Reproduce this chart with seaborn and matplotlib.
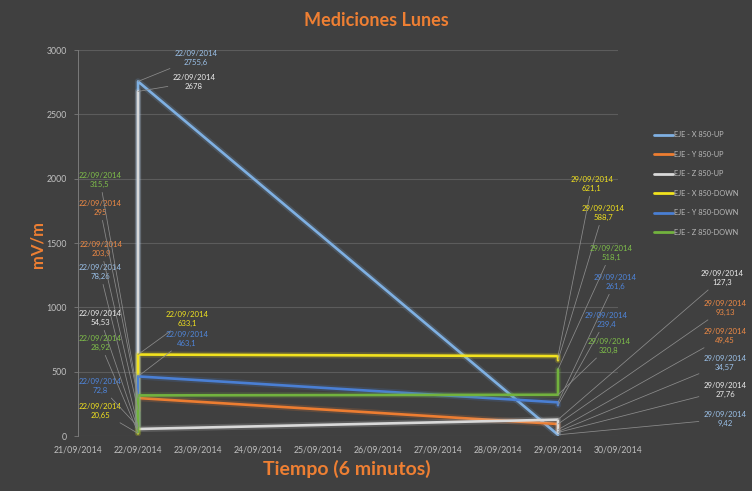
import matplotlib
matplotlib.use("Agg")
import matplotlib.pyplot as plt
import matplotlib.dates as mdates
import matplotlib.patheffects as pe
import pandas as pd
import seaborn as sns

# --- data -----------------------------------------------------------------
series_names = [
    "EJE - X 850-UP",
    "EJE - Y 850-UP",
    "EJE - Z 850-UP",
    "EJE - X 850-DOWN",
    "EJE - Y 850-DOWN",
    "EJE - Z 850-DOWN",
]
reading_dates = ["22/09/2014", "22/09/2014", "29/09/2014", "29/09/2014"]

x_up = [78.26, 2755.6, 9.42, 34.57]
y_up = [203.9, 295, 93.13, 49.45]
z_up = [2678, 54.53, 127.3, 27.76]
x_down = [20.65, 633.1, 621.1, 588.7]
y_down = [72.8, 463.1, 261.6, 239.4]
z_down = [28.92, 315.5, 320.8, 518.1]

series_values = [x_up, y_up, z_up, x_down, y_down, z_down]

# --- styling --------------------------------------------------------------
colors = ["#7fb0e2", "#ed7d31", "#d9d9d9", "#f2e21e", "#4a7fd4", "#72b23e"]
label_colors = ["#9cc2ea", "#ef8a45", "#ececec", "#f2e21e", "#4f86dc", "#7fbf4a"]
bg = "#404040"
accent = "#ee7f33"
tick_col = "#c0c0c0"

# placement of each data label (figure pixels, measured from the top-left)
label_pos = [
    [(100, 272), (196, 58), (725, 419), (725, 363)],
    [(101, 249), (100, 208), (725, 308), (725, 336)],
    [(194, 82), (100, 318), (722, 278), (725, 390)],
    [(100, 411), (187, 319), (592, 184), (603, 213)],
    [(100, 386), (187, 339), (615, 282), (606, 320)],
    [(100, 343), (100, 180), (609, 346), (611, 253)],
]

rows = []
for name, vals in zip(series_names, series_values):
    for d, v in zip(reading_dates, vals):
        rows.append({"Fecha": pd.to_datetime(d, dayfirst=True), "mV/m": v, "Serie": name})
df = pd.DataFrame(rows)

sns.set_style("dark", rc={"axes.facecolor": bg, "figure.facecolor": bg})
plt.rcParams["font.family"] = ["Lato", "DejaVu Sans"]

W, H = 752, 491
fig = plt.figure(figsize=(W / 100, H / 100), dpi=100)
ax = fig.add_axes([78 / W, 1 - 436 / H, (618 - 78) / W, (436 - 50) / H])
ax.set_facecolor(bg)

sns.lineplot(
    data=df, x="Fecha", y="mV/m", hue="Serie", hue_order=series_names,
    palette=colors, estimator=None, sort=False, linewidth=1.9, ax=ax,
)

for line, c in zip(ax.lines, colors):
    line.set_path_effects([
        pe.Stroke(linewidth=4.5, foreground=c, alpha=0.18),
        pe.Normal(),
    ])

# data labels with leader lines
for name, vals, pos, lc in zip(series_names, series_values, label_pos, label_colors):
    for d, v, (px, py) in zip(reading_dates, vals, pos):
        txt = f"{d}\n{v:g}".replace(".", ",")
        ax.annotate(
            txt, xy=(pd.to_datetime(d, dayfirst=True), v),
            xytext=(px, H - py), textcoords="figure pixels",
            ha="center", va="center", fontsize=5.6, color=lc,
            linespacing=1.25, annotation_clip=False,
            arrowprops=dict(arrowstyle="-", color="#8c8c8c", lw=0.55,
                            shrinkA=1, shrinkB=0),
        )

# axes
ax.set_xlim(pd.Timestamp("2014-09-21"), pd.Timestamp("2014-09-30"))
ax.xaxis.set_major_locator(mdates.DayLocator())
ax.xaxis.set_major_formatter(mdates.DateFormatter("%d/%m/%Y"))
ax.set_ylim(0, 3000)
ax.set_yticks(range(0, 3001, 500))
ax.yaxis.grid(True, color="#5c5c5c", linewidth=0.8)
ax.xaxis.grid(False)
ax.set_xlabel("")
ax.set_ylabel("")
for s in ["top", "right", "bottom"]:
    ax.spines[s].set_visible(False)
ax.spines["left"].set_color("#7a7a7a")
ax.spines["left"].set_linewidth(0.7)
ax.tick_params(axis="x", length=0, pad=7, labelsize=6.3, labelcolor=tick_col)
ax.tick_params(axis="y", length=3, width=0.6, color="#7a7a7a", pad=5,
               labelsize=6.3, labelcolor=tick_col, left=True)

# legend to the right of the plot
sns.move_legend(
    ax, "upper left", bbox_to_anchor=(650 / W, 1 - 127 / H),
    bbox_transform=fig.transFigure, frameon=False, title=None,
    fontsize=5.3, labelcolor="#b8b8b8", handlelength=2.5,
    handletextpad=0.2, labelspacing=1.7, borderaxespad=0.2,
)
for h in ax.get_legend().legend_handles:
    h.set_linewidth(2.0)

# titles
fig.text(376 / W, 1 - 20 / H, "Mediciones Lunes", ha="center", va="center",
         color=accent, fontsize=13, fontweight="bold")
fig.text(347 / W, 1 - 469 / H, "Tiempo (6 minutos)", ha="center", va="center",
         color=accent, fontsize=14, fontweight="bold")
fig.text(38 / W, 1 - 245 / H, "mV/m", ha="center", va="center", rotation=90,
         color=accent, fontsize=12, fontweight="bold")

fig.savefig("out.png", dpi=100, facecolor=bg)
